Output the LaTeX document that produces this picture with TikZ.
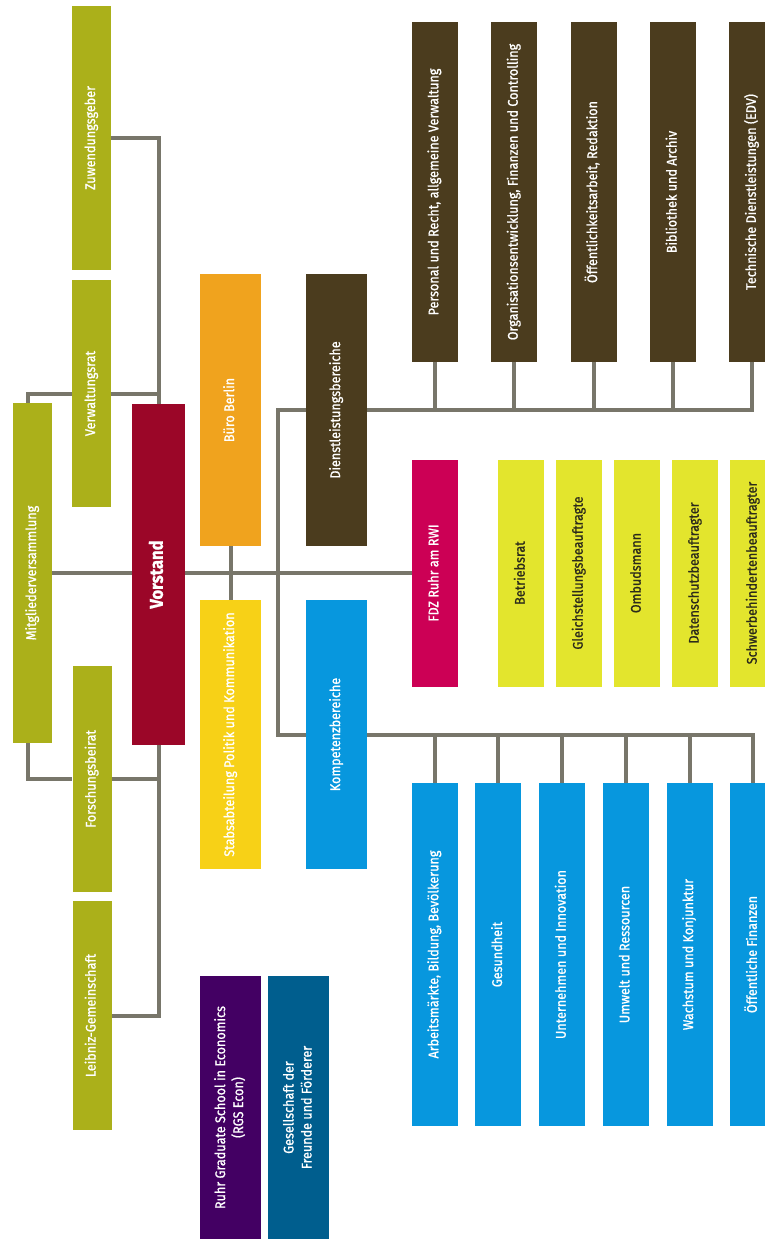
\documentclass[tikz,border=0pt]{standalone}
\usepackage{fontspec}
\setmainfont[FakeStretch=0.9, FakeBold=1]{Fira Sans}
\usepackage{graphicx}
\usepackage{tikz}
\usetikzlibrary{positioning}
\usetikzlibrary{backgrounds}

\definecolor{rwiolive}{HTML}{ABB01A}
\definecolor{rwired}{HTML}{9B0628}
\definecolor{rwiorange}{HTML}{F0A31E}
\definecolor{rwiyellow}{HTML}{F7D117}
\definecolor{rwibrown}{HTML}{4B3C1E}
\definecolor{rwiblue}{HTML}{0797DE}
\definecolor{rwimagenta}{HTML}{CC0055}
\definecolor{rwilime}{HTML}{E3E52D}
\definecolor{rwipurple}{HTML}{430063}
\definecolor{rwipetrol}{HTML}{005E8E}
\definecolor{rwiline}{HTML}{78766A}
\definecolor{rwidark}{HTML}{2B2A1B}

\newcommand{\rtext}[1]{\rotatebox{90}{\begin{tabular}{@{}c@{}}#1\end{tabular}}}

\tikzset{
  box/.style={rectangle, inner sep=0pt, text=white, font=\fontsize{14}{18}\selectfont},
  board/.style={box, fill=rwiolive, minimum width=39pt},
  unit/.style={box, minimum width=46pt},
  wide/.style={box, minimum width=61pt},
  conn/.style={draw=rwiline, line width=4pt}
}

\begin{document}
\begin{tikzpicture}[x=1pt,y=-1pt]
  \useasboundingbox (0,0) rectangle (764,1239);

  \node[board, minimum height=264pt](zuw) at (91.5,138) {\rtext{Zuwendungsgeber}};
  \node[board, minimum height=227pt](verw) at (91.5,393.5) {\rtext{Verwaltungsrat}};
  \node[board, minimum height=340pt](mitgl) at (32.5,573) {\rtext{Mitgliederversammlung}};
  \node[board, minimum height=226pt](forsch) at (92,779) {\rtext{Forschungsbeirat}};
  \node[board, minimum height=229pt](leibniz) at (92,1015.5) {\rtext{Leibniz-Gemeinschaft}};
  \node[box, fill=rwired, minimum width=53pt, minimum height=341pt](vorstand) at (158.5,574.5) {\rtext{\bfseries\fontsize{18.5}{22}\selectfont Vorstand}};

  \node[wide, fill=rwiorange, minimum height=272pt](buero) at (230.5,410) {\rtext{Büro Berlin}};
  \node[wide, fill=rwiyellow, minimum height=269pt](stab) at (230.5,734.5) {\rtext{Stabsabteilung Politik und Kommunikation}};
  \node[wide, fill=rwibrown, minimum height=272pt](dienst) at (336.5,410) {\rtext{Dienstleistungsbereiche}};
  \node[wide, fill=rwiblue, minimum height=269pt](kompetenz) at (336.5,734.5) {\rtext{Kompetenzbereiche}};
  \node[wide, fill=rwipurple, minimum height=263pt](rgs) at (230.5,1107.5) {\rtext{Ruhr Graduate School in Economics\\(RGS Econ)}};
  \node[wide, fill=rwipetrol, minimum height=263pt, right=7pt of rgs](gff) {\rtext{Gesellschaft der\\Freunde und Förderer}};

  \node[unit, fill=rwibrown, minimum height=340pt](d1) at (434.7,192) {\rtext{Personal und Recht, allgemeine Verwaltung}};
  \node[unit, fill=rwibrown, minimum height=340pt, right=33pt of d1](d2) {\rtext{Organisationsentwicklung, Finanzen und Controlling}};
  \node[unit, fill=rwibrown, minimum height=340pt, right=33pt of d2](d3) {\rtext{Öffentlichkeitsarbeit, Redaktion}};
  \node[unit, fill=rwibrown, minimum height=340pt, right=33pt of d3](d4) {\rtext{Bibliothek und Archiv}};
  \node[unit, fill=rwibrown, minimum height=340pt, right=33pt of d4](d5) {\rtext{Technische Dienstleistungen (EDV)}};

  \node[unit, fill=rwimagenta, minimum height=227pt](fdz) at (434.7,573) {\rtext{FDZ Ruhr am RWI}};
  \node[unit, fill=rwilime, text=rwidark, minimum height=227pt, right=40pt of fdz](s1) {\rtext{Betriebsrat}};
  \node[unit, fill=rwilime, text=rwidark, minimum height=227pt, right=11.6pt of s1](s2) {\rtext{Gleichstellungsbeauftragte}};
  \node[unit, fill=rwilime, text=rwidark, minimum height=227pt, right=11.6pt of s2](s3) {\rtext{Ombudsmann}};
  \node[unit, fill=rwilime, text=rwidark, minimum height=227pt, right=11.6pt of s3](s4) {\rtext{Datenschutzbeauftragter}};
  \node[unit, fill=rwilime, text=rwidark, minimum height=227pt, right=11.6pt of s4](s5) {\rtext{Schwerbehindertenbeauftragter}};

  \node[unit, fill=rwiblue, minimum height=343pt](k1) at (434.7,954.5) {\rtext{Arbeitsmärkte, Bildung, Bevölkerung}};
  \node[unit, fill=rwiblue, minimum height=343pt, right=17.3pt of k1](k2) {\rtext{Gesundheit}};
  \node[unit, fill=rwiblue, minimum height=343pt, right=17.3pt of k2](k3) {\rtext{Unternehmen und Innovation}};
  \node[unit, fill=rwiblue, minimum height=343pt, right=17.3pt of k3](k4) {\rtext{Umwelt und Ressourcen}};
  \node[unit, fill=rwiblue, minimum height=343pt, right=17.3pt of k4](k5) {\rtext{Wachstum und Konjunktur}};
  \node[unit, fill=rwiblue, minimum height=343pt, right=17.3pt of k5](k6) {\rtext{Öffentliche Finanzen}};

  \coordinate(spine) at (278,573);

  \begin{scope}[on background layer]
    \draw[conn] (zuw) -| (vorstand.north);
    \draw[conn] ([xshift=-4.5pt]mitgl.north) |- (verw) -| (vorstand.north);
    \draw[conn] ([xshift=-4.5pt]mitgl.south) |- (forsch) -| (vorstand.south);
    \draw[conn] (leibniz) -| (vorstand.south);
    \draw[conn] (mitgl) -- (fdz);
    \draw[conn] (buero) -- (stab);
    \draw[conn] (dienst) -| (spine) |- (kompetenz);
    \draw[conn] (dienst) -| (d5.south);
    \draw[conn] (kompetenz) -| (k6.north);
    \path[conn] (d1.south) edge (d1 |- dienst)
                (d2.south) edge (d2 |- dienst)
                (d3.south) edge (d3 |- dienst)
                (d4.south) edge (d4 |- dienst);
    \path[conn] (k1.north) edge (k1 |- kompetenz)
                (k2.north) edge (k2 |- kompetenz)
                (k3.north) edge (k3 |- kompetenz)
                (k4.north) edge (k4 |- kompetenz)
                (k5.north) edge (k5 |- kompetenz);
  \end{scope}
\end{tikzpicture}
\end{document}
